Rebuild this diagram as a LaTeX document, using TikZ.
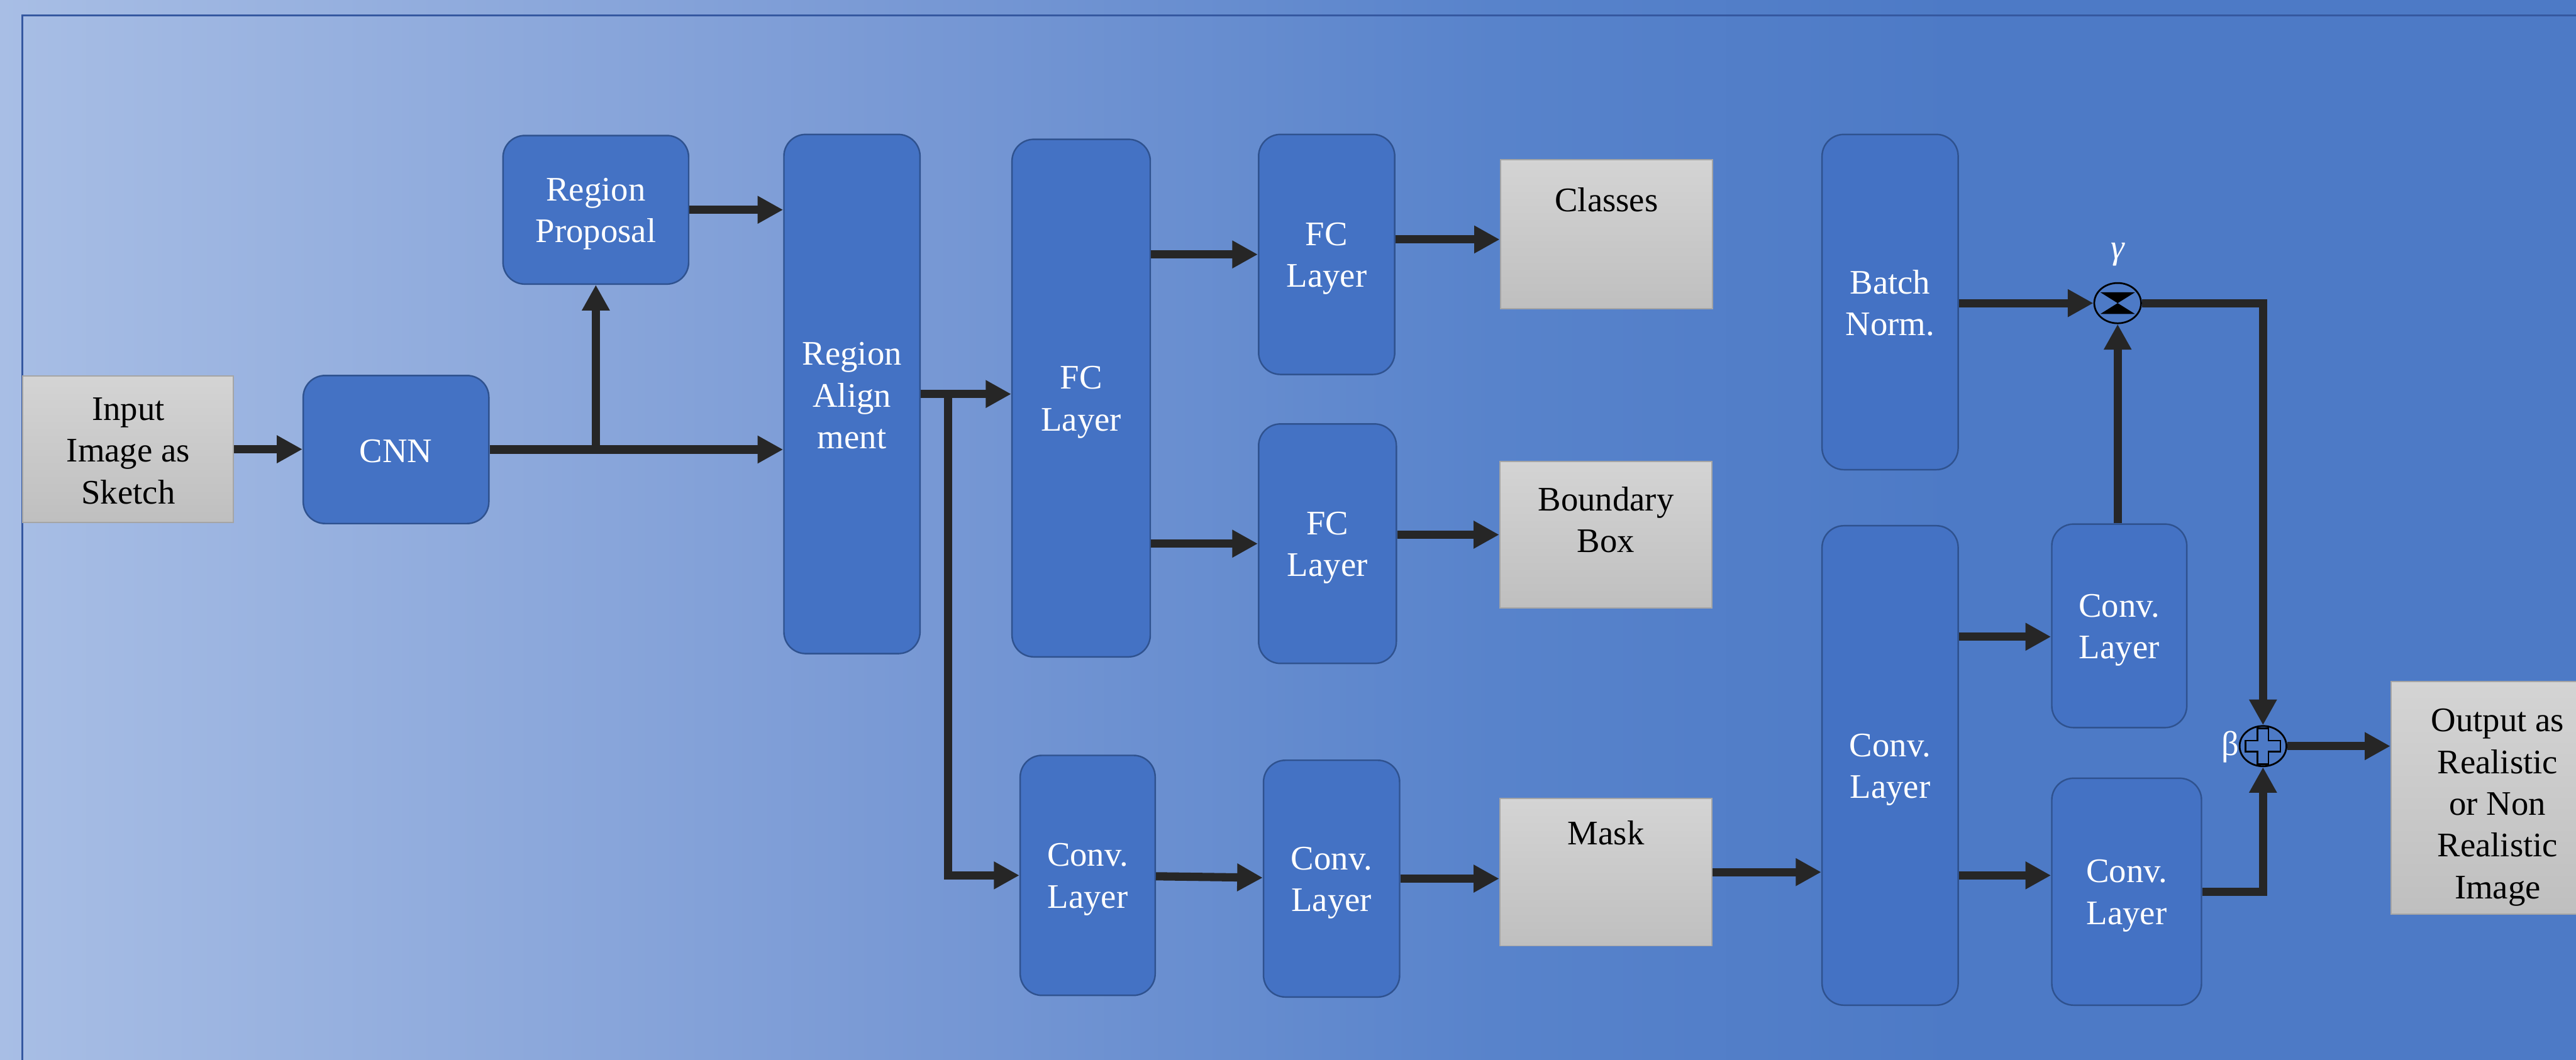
\documentclass[tikz,border=0pt]{standalone}
\usepackage{fontspec}
\setmainfont{Liberation Serif}
\usetikzlibrary{arrows.meta,shapes.geometric}

\definecolor{bgA}{HTML}{A8BEE5}
\definecolor{bgB}{HTML}{7A9AD5}
\definecolor{bgC}{HTML}{5883CB}
\definecolor{bgD}{HTML}{4D7AC6}
\definecolor{frameline}{HTML}{3558A0}
\definecolor{layerfill}{HTML}{4472C4}
\definecolor{layeredge}{HTML}{2F528F}
\definecolor{resulthi}{HTML}{D4D4D4}
\definecolor{resultlo}{HTML}{BFBFBF}
\definecolor{resultedge}{HTML}{A5A5A5}
\definecolor{flowink}{HTML}{262626}

\pgfdeclarehorizontalshading{backdrop}{100bp}{color(0bp)=(bgA); color(25bp)=(bgA); color(42bp)=(bgB); color(54bp)=(bgC); color(63bp)=(bgD); color(100bp)=(bgD)}

\newcommand\boxfont{\fontsize{18}{21.8}\selectfont}
% keeps the first and last line of a box label at full line height
\newcommand\lstrut{\rule[-2.8pt]{0pt}{19pt}}

\tikzset{
  layer/.style={draw=layeredge, fill=layerfill, line width=0.8pt, rounded corners=0.4cm,
    text=white, font=\boxfont, align=center, inner sep=0pt},
  result/.style={draw=resultedge, top color=resulthi, bottom color=resultlo, line width=0.6pt,
    font=\boxfont, align=center, inner sep=0pt},
  toptext/.style={font=\boxfont, align=center, inner sep=0pt, anchor=north, yshift=-4.7mm},
  flow/.style={draw=flowink, line width=4.3pt, -{Triangle[length=0.47cm,width=0.48cm]}},
  op/.style={ellipse, draw=black, line width=0.9pt, minimum width=0.86cm, minimum height=0.74cm, inner sep=0pt},
  greek/.style={text=white, font=\boxfont, inner sep=0pt},
}

\begin{document}
\begin{tikzpicture}
\useasboundingbox (0,0) rectangle (47.32,-19.47);
\clip (0,0) rectangle (47.32,-19.47);
\shade[shading=backdrop] (0,0) rectangle (47.32,-19.47);
\draw[frameline, line width=0.03cm] (0.41,-0.28) rectangle (48,-20);

% detection branch
\node[result, minimum width=3.87cm, minimum height=2.69cm] (inp) at (2.355,-8.255) {\lstrut Input\\Image as\\Sketch\lstrut};
\node[layer, minimum width=3.41cm, minimum height=2.72cm] (cnn) at (7.275,-8.26) {\lstrut CNN};
\node[layer, minimum width=3.41cm, minimum height=2.73cm] (rp) at (10.945,-3.855) {\lstrut Region\\Proposal\lstrut};
\node[layer, minimum width=2.5cm, minimum height=9.54cm] (ra) at (15.65,-7.24) {\lstrut Region\\Align\\ment\lstrut};
\node[layer, minimum width=2.54cm, minimum height=9.51cm] (fc) at (19.86,-7.315) {\lstrut FC\\Layer\lstrut};
\node[layer, minimum width=2.5cm, minimum height=4.41cm] (fct) at (24.37,-4.675) {\lstrut FC\\Layer\lstrut};
\node[layer, minimum width=2.53cm, minimum height=4.4cm] (fcm) at (24.385,-9.99) {\lstrut FC\\Layer\lstrut};
\node[result, minimum width=3.9cm, minimum height=2.74cm] (cls) at (29.51,-4.30) {};
\node[toptext, yshift=-0.5mm] (clstxt) at (cls.north) {Classes};
\node[result, minimum width=3.9cm, minimum height=2.69cm] (bb) at (29.50,-9.825) {};
\node[toptext] (bbtxt) at (bb.north) {Boundary\\Box};

% mask branch
\node[layer, minimum width=2.48cm, minimum height=4.41cm] (cv1) at (19.98,-16.085) {\lstrut Conv.\\Layer\lstrut};
\node[layer, minimum width=2.5cm, minimum height=4.35cm] (cv2) at (24.46,-16.145) {\lstrut Conv.\\Layer\lstrut};
\node[result, minimum width=3.9cm, minimum height=2.71cm] (mask) at (29.50,-16.025) {};
\node[toptext, yshift=0.6mm] (masktxt) at (mask.north) {Mask};

% normalisation and output
\node[layer, minimum width=2.5cm, minimum height=6.16cm] (bn) at (34.72,-5.55) {\lstrut Batch\\Norm.\lstrut};
\node[layer, minimum width=2.5cm, minimum height=8.81cm] (cv3) at (34.72,-14.065) {\lstrut Conv.\\Layer\lstrut};
\node[layer, minimum width=2.48cm, minimum height=3.74cm] (cv4) at (38.93,-11.5) {\lstrut Conv.\\Layer\lstrut};
\node[layer, minimum width=2.75cm, minimum height=4.17cm] (cv5) at (39.065,-16.385) {\lstrut Conv.\\Layer\lstrut};
\node[result, minimum width=3.92cm, minimum height=4.28cm] (out) at (45.88,-14.66) {\rule{0pt}{22pt}Output as\\Realistic\\or Non\\Realistic\\Image\lstrut};

\node[op] (mul) at (38.90,-5.57) {};
\fill (mul.center) -- ++(-0.32,0.2) -- ++(0.64,0) -- cycle;
\fill (mul.center) -- ++(-0.32,-0.2) -- ++(0.64,0) -- cycle;
\node[greek] (gname) at (38.90,-4.68) {\itshape γ};
\node[op] (add) at (41.57,-13.71) {};
\draw[line width=0.9pt] (add.center) ++(-0.1,0.1) -- ++(0,0.23) -- ++(0.2,0) -- ++(0,-0.23)
  -- ++(0.22,0) -- ++(0,-0.2) -- ++(-0.22,0) -- ++(0,-0.23) -- ++(-0.2,0) -- ++(0,0.23)
  -- ++(-0.22,0) -- ++(0,0.2) -- cycle;
\node[greek] (bname) at (40.97,-13.73) {β};

\draw[flow] (inp.east) -- (inp.east -| cnn.west);
\draw[flow] (cnn.east) -- (cnn.east -| ra.west);
\draw[flow] (cnn.east -| rp.south) -- (rp.south);
\draw[flow] (rp.east) -- (rp.east -| ra.west);
\draw[flow] (ra.east) -- (ra.east -| fc.west);
\draw[flow] ([xshift=5mm]ra.east) |- (cv1.west);
\draw[flow] (fct.west -| fc.east) -- (fct.west);
\draw[flow] (fcm.west -| fc.east) -- (fcm.west);
\draw[flow] ([yshift=-1mm]cls.west -| fct.east) -- ([yshift=-1mm]cls.west);
\draw[flow] (bb.west -| fcm.east) -- (bb.west);
\draw[flow] (cv1) -- (cv2);
\draw[flow] (cv2.east) -- (cv2.east -| mask.west);
\draw[flow] (mask.east) -- (mask.east -| cv3.west);
\draw[flow] (mul.west -| bn.east) -- (mul.west);
\draw[flow] ([yshift=-2mm]cv4.west -| cv3.east) -- ([yshift=-2mm]cv4.west);
\draw[flow] ([yshift=3mm]cv5.west -| cv3.east) -- ([yshift=3mm]cv5.west);
\draw[flow] (cv4.north -| mul.south) -- (mul.south);
\draw[flow] (mul.east) -| (add.north);
\draw[flow] (cv5.east) -| (add.south);
\draw[flow] (add.east) -- (add.east -| out.west);
\end{tikzpicture}
\end{document}
